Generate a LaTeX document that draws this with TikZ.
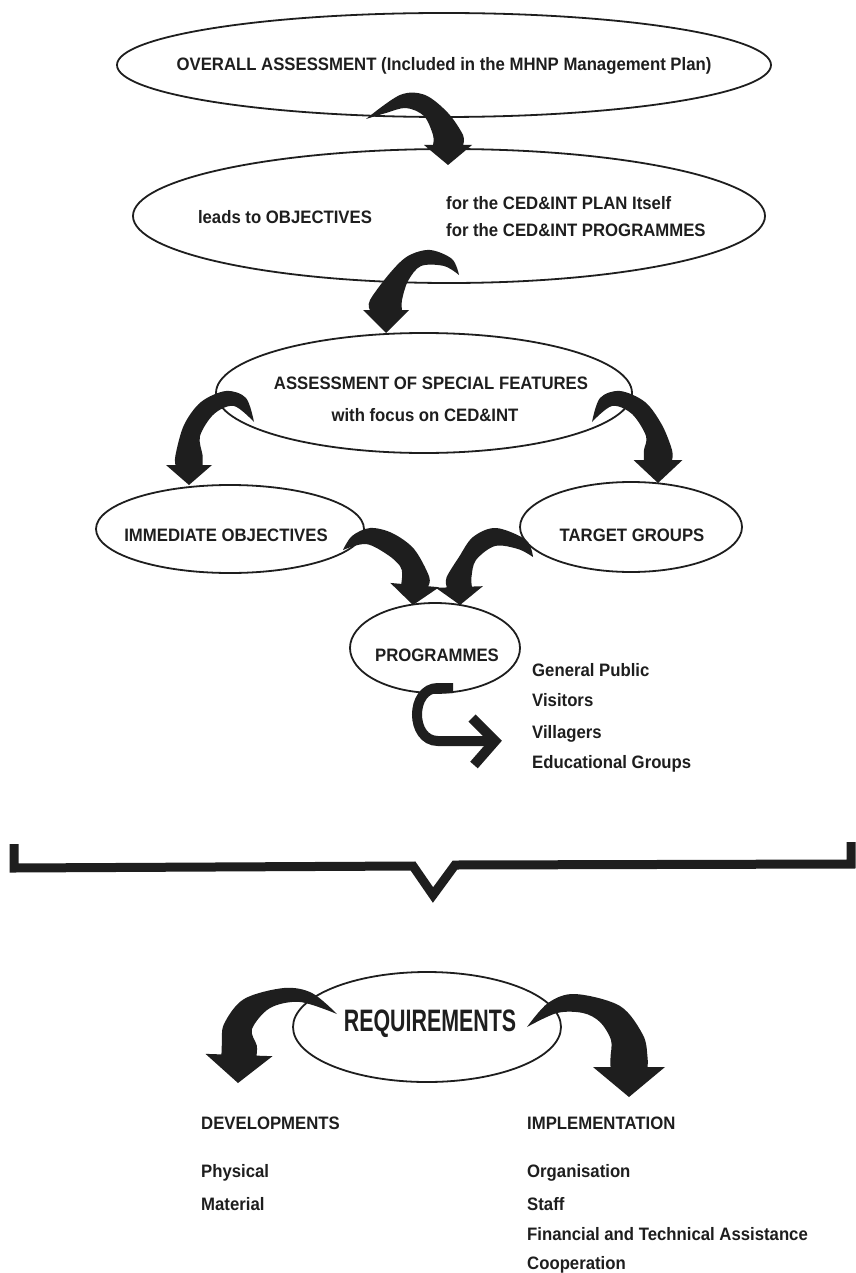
\documentclass[tikz,border=0pt]{standalone}
\usepackage{fontspec}
\setmainfont{Liberation Sans}[FakeStretch=0.93]
\newfontfamily\reqfont{Liberation Sans}[FakeStretch=0.69]
\usetikzlibrary{shapes.geometric,calc}
\definecolor{ink}{HTML}{1E1E1E}

% Tapered curved arrow.
% #1 outer edge points (from the tail), #2 inner edge points (ending at the tail),
% #3 tip, #4 head direction, #5 turn sign (+1 clockwise, -1 counter-clockwise),
% #6 shaft half-width, #7 head length, #8 head half-width
\newcommand\crescent[8]{%
  \path ($#3+({#4+180}:#7)$) coordinate (cr-b);
  \path ($(cr-b)+({#4-(#5)*90}:#6)$) coordinate (cr-bo)
        ($(cr-b)+({#4+(#5)*90}:#6)$) coordinate (cr-bi)
        ($(cr-b)+({#4-(#5)*90}:#8)$) coordinate (cr-ho)
        ($(cr-b)+({#4+(#5)*90}:#8)$) coordinate (cr-hi);
  \path ($(cr-bo)+({#4+180}:10)$) coordinate (cr-bo2)
        ($(cr-bi)+({#4+180}:10)$) coordinate (cr-bi2);
  \fill[arrowfill] plot[smooth,tension=0.55] coordinates {#1 (cr-bo2) (cr-bo)}
      -- (cr-ho) -- #3 -- (cr-hi)
      -- plot[smooth,tension=0.55] coordinates {(cr-bi) (cr-bi2) #2} -- cycle;
}

\begin{document}
\begin{tikzpicture}[x=1pt,y=-1pt,
  oval/.style={draw=ink, line width=1.8pt, ellipse, inner sep=0pt},
  txt/.style={font=\fontsize{18}{22}\selectfont\bfseries, text=ink, inner sep=0pt, anchor=base},
  item/.style={txt, anchor=base west},
  arrowfill/.style={fill=ink},
  hookline/.style={draw=ink, line width=10pt},
  bracketline/.style={draw=ink, line width=9pt, line join=miter}]

\useasboundingbox (0,0) rectangle (855,1273);
\fill[white] (0,0) rectangle (855,1273);

% ---------- ellipses ----------
\node[oval, minimum width=654pt, minimum height=104pt] (e1) at (444,65) {};
\node[oval, minimum width=632pt, minimum height=134pt] (e2) at (449,216) {};
\node[oval, minimum width=416pt, minimum height=120pt] (e3) at (424,393) {};
\node[oval, minimum width=268pt, minimum height=88pt]  (e4) at (230,529) {};
\node[oval, minimum width=222pt, minimum height=90pt]  (e5) at (631,527) {};
\node[oval, minimum width=170pt, minimum height=90pt]  (e6) at (435,648) {};
\node[oval, minimum width=268pt, minimum height=110pt] (e7) at (427,1027) {};

% ---------- texts ----------
\node[txt] (t1) at (444,70.5) {OVERALL ASSESSMENT (Included in the MHNP Management Plan)};
\node[txt] (t2) at (285,223.5) {leads to OBJECTIVES};
\node[item] (t2a) at (446,209.5) {for the CED\&INT PLAN Itself};
\node[item] (t2b) at (446,236.5) {for the CED\&INT PROGRAMMES};
\node[txt] (t3a) at (431,389.5) {ASSESSMENT OF SPECIAL FEATURES};
\node[txt] (t3b) at (425,421.5) {with focus on CED\&INT};
\node[txt] (t4) at (226,541.5) {IMMEDIATE OBJECTIVES};
\node[txt] (t5) at (632,541.5) {TARGET GROUPS};
\node[txt] (t6) at (437,661.5) {PROGRAMMES};
\node[item] (g1) at (532,676.5) {General Public};
\node[item] (g2) at (532,706.5) {Visitors};
\node[item] (g3) at (532,738.5) {Villagers};
\node[item] (g4) at (532,768.5) {Educational Groups};
\node[txt, font=\reqfont\bfseries\fontsize{31}{33}\selectfont] (t7) at (430,1031.5) {REQUIREMENTS};
\node[item] (d0) at (201,1129) {DEVELOPMENTS};
\node[item] (d1) at (201,1177) {Physical};
\node[item] (d2) at (201,1210) {Material};
\node[item] (i0) at (527,1129) {IMPLEMENTATION};
\node[item] (i1) at (527,1177) {Organisation};
\node[item] (i2) at (527,1210) {Staff};
\node[item] (i3) at (527,1240) {Financial and Technical Assistance};
\node[item] (i4) at (527,1269) {Cooperation};

% ---------- curved arrows between the ellipses ----------
% e1 -> e2
\crescent{(366,119) (400,95) (425,95) (448,113)}{(424,116) (406,108) (386,113) (366,119)}
  {(448,165)}{90}{1}{15}{20}{24}
% e2 -> e3
\crescent{(459,275) (452,259) (430,250) (408,256) (390,273)}{(408,281) (421,266) (444,266) (459,275)}
  {(386,333)}{90}{-1}{16}{23}{23}
% e3 -> e4
\crescent{(254,422) (246,398) (226,391) (201,402) (184,425)}{(200,436) (214,414) (234,406) (254,422)}
  {(189,485)}{90}{-1}{13.5}{20}{23}
% e3 -> e5
\crescent{(592,422) (600,398) (620,391) (645,402) (662,425)}{(646,436) (632,414) (612,406) (592,422)}
  {(658,483)}{90}{1}{14}{23}{24.5}
% e4 -> e6
\crescent{(343,550) (352,536) (370,528) (392,533) (414,549)}{(400,566) (388,555) (366,544) (343,550)}
  {(413,605)}{95}{1}{13.5}{20}{24.5}
% e5 -> e6
\crescent{(533,557) (526,540) (496,528) (473,537) (459,557)}{(476,560) (495,546) (518,549) (533,557)}
  {(460,605)}{88}{-1}{12.5}{18}{23.5}

% e6 -> target group list (hook arrow)
\coordinate (h0) at (453,688);
\coordinate (h1) at (495,741);
\draw[hookline] (h0) -- (438,688) .. controls (410,688) and (410,741) .. (438,741) -- (h1);
\draw[hookline, line join=miter] (472,718) -- (h1) -- (474,765);

% ---------- bracket ----------
\draw[bracketline] (14,844) -- (14,868) -- (413,866) -- (433,895) -- (455,865) -- (851,864) -- (851,842);

% ---------- requirements arrows ----------
\crescent{(337,1014) (312,993) (284,988) (244,999) (224,1024)}{(252,1029) (270,1008) (300,1002) (337,1014)}
  {(238,1083)}{92}{-1}{17.5}{28}{33.5}
\crescent{(527,1027) (548,1003) (575,994) (620,1006) (643,1035)}{(611,1040) (600,1022) (583,1013) (557,1013) (527,1027)}
  {(629,1097)}{90}{1}{18.5}{30}{36}

\end{tikzpicture}
\end{document}
